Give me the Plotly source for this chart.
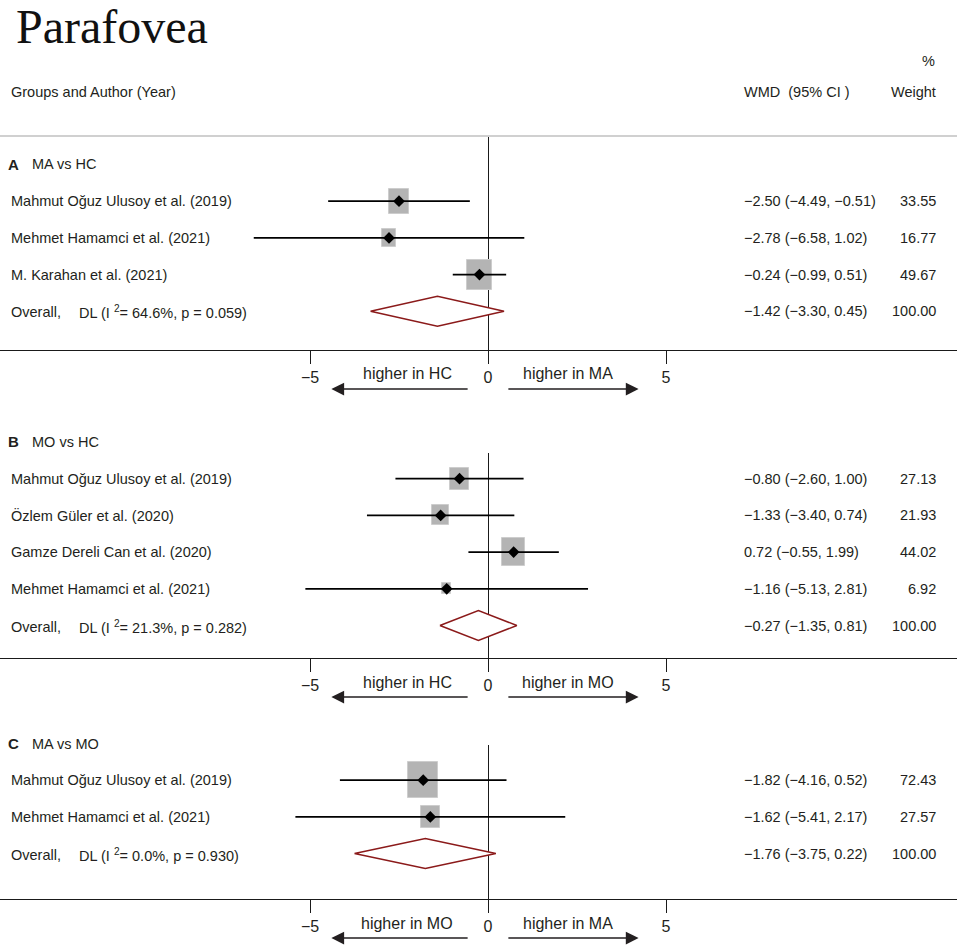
import plotly.graph_objects as go

# ---------------- data ----------------
A_STUDIES = ["Mahmut Oğuz Ulusoy et al. (2019)", "Mehmet Hamamci et al. (2021)", "M. Karahan et al. (2021)"]
A_EST = [-2.50, -2.78, -0.24]
A_LO = [-4.49, -6.58, -0.99]
A_HI = [-0.51, 1.02, 0.51]
A_WEIGHT = [33.55, 16.77, 49.67]
A_OVERALL = [-1.42, -3.30, 0.45]
A_HET = ["64.6%", "0.059"]

B_STUDIES = ["Mahmut Oğuz Ulusoy et al. (2019)", "Özlem Güler et al. (2020)",
             "Gamze Dereli Can et al. (2020)", "Mehmet Hamamci et al. (2021)"]
B_EST = [-0.80, -1.33, 0.72, -1.16]
B_LO = [-2.60, -3.40, -0.55, -5.13]
B_HI = [1.00, 0.74, 1.99, 2.81]
B_WEIGHT = [27.13, 21.93, 44.02, 6.92]
B_OVERALL = [-0.27, -1.35, 0.81]
B_HET = ["21.3%", "0.282"]

C_STUDIES = ["Mahmut Oğuz Ulusoy et al. (2019)", "Mehmet Hamamci et al. (2021)"]
C_EST = [-1.82, -1.62]
C_LO = [-4.16, -5.41]
C_HI = [0.52, 2.17]
C_WEIGHT = [72.43, 27.57]
C_OVERALL = [-1.76, -3.75, 0.22]
C_HET = ["0.0%", "0.930"]

OVERALL_WEIGHT = [100.00, 100.00, 100.00]
PANEL_LETTERS = ["A", "B", "C"]
PANEL_TITLES = ["MA vs HC", "MO vs HC", "MA vs MO"]
LEFT_LABELS = ["higher in HC", "higher in HC", "higher in MO"]
RIGHT_LABELS = ["higher in MA", "higher in MO", "higher in MA"]
TICK_VALUES = [-5, 0, 5]
TICK_LABELS = ["−5", "0", "5"]

# ---------------- layout constants (pixels) ----------------
W, H = 957, 948
X0_PX = 488.0
PX_PER_UNIT = 35.6
ROW_STEP = 36.7
PANEL_POS = [dict(top=137, axis=350, title=164.5),
             dict(top=453, axis=658, title=442),
             dict(top=745, axis=899, title=743.5)]
SQ_W = 3.55   # px per sqrt(weight)
SQ_H = 4.25
DIAMOND_HALF = 15
TEXT = "#231f20"
DARKRED = "#8b1a1a"
FONT = "Liberation Sans, Arial, sans-serif"
FS = 14.5

panels = [
    dict(studies=A_STUDIES, est=A_EST, lo=A_LO, hi=A_HI, w=A_WEIGHT, ov=A_OVERALL, het=A_HET),
    dict(studies=B_STUDIES, est=B_EST, lo=B_LO, hi=B_HI, w=B_WEIGHT, ov=B_OVERALL, het=B_HET),
    dict(studies=C_STUDIES, est=C_EST, lo=C_LO, hi=C_HI, w=C_WEIGHT, ov=C_OVERALL, het=C_HET),
]


def fmt(v):
    return f"{v:.2f}".replace("-", "−")


def py(px):
    return 1 - px / H


def label(text, xpx, ypx, anchor="left", size=FS, **kw):
    return dict(text=text, x=xpx / W, y=py(ypx), xref="paper", yref="paper",
                xanchor=anchor, yanchor="middle", showarrow=False,
                font=dict(family=kw.get("family", FONT), size=size, color=kw.get("color", TEXT)))


x_range = [-X0_PX / PX_PER_UNIT, (W - X0_PX) / PX_PER_UNIT]

fig = go.Figure()
annotations = []
shapes = []

for i, (p, pos) in enumerate(zip(panels, PANEL_POS)):
    sfx = "" if i == 0 else str(i + 1)
    xa, ya = "x" + sfx, "y" + sfx
    n = len(p["studies"])
    rows = [pos["title"] + ROW_STEP * (k + 1) for k in range(n)]
    ov_row = pos["title"] + ROW_STEP * (n + 1)

    # weight squares (bars)
    sw = [SQ_W * w ** 0.5 / PX_PER_UNIT for w in p["w"]]
    sh = [SQ_H * w ** 0.5 for w in p["w"]]
    fig.add_trace(go.Bar(
        orientation="h", y=rows, x=sw, base=[e - s / 2 for e, s in zip(p["est"], sw)],
        width=sh, marker=dict(color="#b4b4b4", line=dict(color="#cdcdcd", width=1)),
        xaxis=xa, yaxis=ya, hoverinfo="skip", showlegend=False))

    # CI lines + point estimates
    fig.add_trace(go.Scatter(
        x=p["est"], y=rows, mode="markers",
        marker=dict(symbol="diamond", size=9, color="black"),
        error_x=dict(type="data", symmetric=False,
                     array=[h - e for h, e in zip(p["hi"], p["est"])],
                     arrayminus=[e - l for e, l in zip(p["est"], p["lo"])],
                     width=0, thickness=1.8, color="black"),
        xaxis=xa, yaxis=ya, hoverinfo="skip", showlegend=False))

    # overall diamond
    oe, ol, oh = p["ov"]
    fig.add_trace(go.Scatter(
        x=[ol, oe, oh, oe, ol], y=[ov_row, ov_row - DIAMOND_HALF, ov_row, ov_row + DIAMOND_HALF, ov_row],
        mode="lines", fill="toself", fillcolor="white",
        line=dict(color=DARKRED, width=1.5),
        xaxis=xa, yaxis=ya, hoverinfo="skip", showlegend=False))

    # axes
    fig.update_layout(**{
        ("xaxis" + sfx): dict(domain=[0, 1], range=x_range, anchor=ya, showgrid=False,
                              zeroline=True, zerolinecolor="#1a1a1a", zerolinewidth=1.4,
                              showline=True, linecolor="#1a1a1a", linewidth=1.4,
                              ticks="outside", ticklen=13, tickwidth=1, tickcolor="#1a1a1a",
                              tickvals=TICK_VALUES, ticktext=TICK_LABELS,
                              tickfont=dict(family=FONT, size=16, color=TEXT), fixedrange=True),
        ("yaxis" + sfx): dict(domain=[py(pos["axis"]), py(pos["top"])],
                              range=[pos["axis"], pos["top"]], anchor=xa, visible=False,
                              fixedrange=True),
    })

    # panel heading
    annotations.append(label(f"<b>{PANEL_LETTERS[i]}</b>", 6, pos["title"], size=15))
    annotations.append(label(PANEL_TITLES[i], 30, pos["title"]))

    # study rows
    for k in range(n):
        annotations.append(label(p["studies"][k], 9, rows[k]))
        annotations.append(label(f"{fmt(p['est'][k])} ({fmt(p['lo'][k])}, {fmt(p['hi'][k])})", 742, rows[k]))
        annotations.append(label(f"{p['w'][k]:.2f}", 938, rows[k], anchor="right"))
    # overall row
    annotations.append(label("Overall,", 9, ov_row + 1))
    annotations.append(label(f"DL (I <sup>2</sup>= {p['het'][0]}, p = {p['het'][1]})", 77, ov_row + 1))
    annotations.append(label(f"{fmt(oe)} ({fmt(ol)}, {fmt(oh)})", 742, ov_row))
    annotations.append(label(f"{OVERALL_WEIGHT[i]:.2f}", 938, ov_row, anchor="right"))

    # direction labels and arrows
    ly = py(pos["axis"] + 24)
    ay_ = py(pos["axis"] + 39)
    annotations.append(dict(text=LEFT_LABELS[i], x=-2.27, y=ly, xref=xa, yref="paper",
                            xanchor="center", yanchor="middle", showarrow=False,
                            font=dict(family=FONT, size=16, color=TEXT)))
    annotations.append(dict(text=RIGHT_LABELS[i], x=2.24, y=ly, xref=xa, yref="paper",
                            xanchor="center", yanchor="middle", showarrow=False,
                            font=dict(family=FONT, size=16, color=TEXT)))
    for head, tail in ((-4.4, -0.53), (4.23, 0.53)):
        annotations.append(dict(text="", x=head, y=ay_, xref=xa, yref="paper",
                                ax=tail, ay=0, axref=xa, ayref="pixel",
                                showarrow=True, arrowhead=2, arrowsize=1.7, arrowwidth=1.5,
                                arrowcolor=TEXT, standoff=0, startstandoff=0))

# header
annotations.append(label("Parafovea", 14, 26, size=48,
                         family="Liberation Serif, Times New Roman, serif", color="#111"))
annotations.append(label("Groups and Author (Year)", 9, 92))
annotations.append(label("WMD  (95% CI )", 742, 92))
annotations.append(label("Weight", 938, 92, anchor="right"))
annotations.append(label("%", 937, 61, anchor="right"))

shapes.append(dict(type="line", xref="paper", yref="paper", x0=0, x1=1, y0=py(136), y1=py(136),
                   line=dict(color="#d0d0d0", width=2)))

fig.update_layout(width=W, height=H, margin=dict(l=0, r=0, t=0, b=0),
                  paper_bgcolor="white", plot_bgcolor="white", showlegend=False,
                  annotations=annotations, shapes=shapes, bargap=0)
fig.write_html("out.html", config={"displayModeBar": False},
               post_script="document.body.style.margin='0';")
